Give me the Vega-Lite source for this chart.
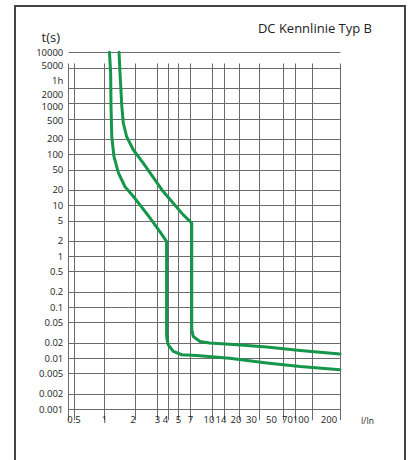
{
  "$schema": "https://vega.github.io/schema/vega-lite/v6.json",
  "width": 390,
  "height": 460,
  "autosize": "none",
  "padding": {"left": 15, "top": 6, "right": 9, "bottom": 0},
  "background": "white",
  "title": {"text": "DC Kennlinie Typ B", "anchor": "end", "frame": "group", "font": "Open Sans", "fontSize": 13, "fontWeight": "normal", "color": "#222", "dx": -33, "dy": 30, "offset": 0},
  "config": {"view": {"stroke": "#444", "strokeWidth": 2}, "font": "Open Sans"},
  "data": {"values": [
    {"curve": "a", "I": 1.13, "t": 10000},
    {"curve": "a", "I": 1.16, "t": 3900},
    {"curve": "a", "I": 1.17, "t": 860},
    {"curve": "a", "I": 1.19, "t": 220},
    {"curve": "a", "I": 1.25, "t": 90},
    {"curve": "a", "I": 1.38, "t": 43},
    {"curve": "a", "I": 1.6, "t": 23},
    {"curve": "a", "I": 1.93, "t": 14.8},
    {"curve": "a", "I": 2.19, "t": 10.1},
    {"curve": "a", "I": 2.64, "t": 5.6},
    {"curve": "a", "I": 3.26, "t": 3.0},
    {"curve": "a", "I": 3.9, "t": 1.95},
    {"curve": "a", "I": 3.9, "t": 0.031},
    {"curve": "a", "I": 3.93, "t": 0.024},
    {"curve": "a", "I": 4.07, "t": 0.0182},
    {"curve": "a", "I": 4.52, "t": 0.0135},
    {"curve": "a", "I": 5.55, "t": 0.0116},
    {"curve": "a", "I": 7.8, "t": 0.0112},
    {"curve": "a", "I": 16, "t": 0.0099},
    {"curve": "a", "I": 35.5, "t": 0.008},
    {"curve": "a", "I": 78, "t": 0.0068},
    {"curve": "a", "I": 200, "t": 0.0059},
    {"curve": "b", "I": 1.4, "t": 10000},
    {"curve": "b", "I": 1.43, "t": 3900},
    {"curve": "b", "I": 1.49, "t": 860},
    {"curve": "b", "I": 1.54, "t": 410},
    {"curve": "b", "I": 1.66, "t": 220},
    {"curve": "b", "I": 1.93, "t": 121},
    {"curve": "b", "I": 2.33, "t": 67},
    {"curve": "b", "I": 2.89, "t": 31.3},
    {"curve": "b", "I": 3.56, "t": 18.5},
    {"curve": "b", "I": 4.52, "t": 10.9},
    {"curve": "b", "I": 5.8, "t": 6.45},
    {"curve": "b", "I": 7.2, "t": 4.44},
    {"curve": "b", "I": 7.2, "t": 0.036},
    {"curve": "b", "I": 7.38, "t": 0.0265},
    {"curve": "b", "I": 8.23, "t": 0.0211},
    {"curve": "b", "I": 9.6, "t": 0.0197},
    {"curve": "b", "I": 17.5, "t": 0.0185},
    {"curve": "b", "I": 35.5, "t": 0.0164},
    {"curve": "b", "I": 78, "t": 0.0141},
    {"curve": "b", "I": 200, "t": 0.012}
  ]},
  "mark": {"type": "line", "color": "#16964a", "strokeWidth": 3, "strokeCap": "round", "strokeJoin": "round"},
  "encoding": {
    "x": {
      "field": "I", "type": "quantitative",
      "scale": {"type": "log", "nice": false,
        "domain": [0.445, 0.5, 1, 2, 3, 4, 5, 7, 10, 14, 20, 30, 50, 70, 100, 200],
        "range": [53.3, 58.5, 89, 120, 142, 152.5, 163, 175, 197, 209, 224, 244, 267.5, 280, 297, 325]},
      "axis": {
        "orient": "bottom", "offset": -57,
        "values": [0.445, 0.5, 1, 2, 3, 4, 5, 7, 10, 14, 20, 30, 50, 70, 100, 200],
        "format": "~g",
        "labelExpr": "datum.value < 0.49 ? '' : datum.label",
        "domain": false, "ticks": false,
        "labelPadding": 5, "labelFont": "Open Sans", "labelFontSize": 9.5, "labelColor": "#222",
        "labelFlush": false, "labelOverlap": false,
        "labelOffset": {"condition": [{"test": "datum.value == 30 || datum.value == 70", "value": -8}, {"test": "datum.value >= 50", "value": -11.5}, {"test": "datum.value >= 10", "value": -3.5}, {"test": "datum.value == 2 || datum.value == 4", "value": -2.5}], "value": 0},
        "grid": true, "gridColor": "#6b6b6b", "gridWidth": 1,
        "title": "I/In", "titleX": 352, "titleY": 11, "titleAlign": "center", "titleBaseline": "middle",
        "titleFont": "Open Sans", "titleFontSize": 8.5, "titleFontWeight": "normal", "titleColor": "#222"
      }
    },
    "y": {
      "field": "t", "type": "quantitative",
      "scale": {"type": "log", "nice": false, "domain": [0.001, 10000], "range": [403, 46.3]},
      "axis": {
        "orient": "left", "offset": -53.3,
        "values": [0.001, 0.002, 0.005, 0.01, 0.02, 0.05, 0.1, 0.2, 0.5, 1, 2, 5, 10, 20, 50, 100, 200, 500, 1000, 2000, 3600, 5000, 10000],
        "format": "~g",
        "labelExpr": "datum.value == 3600 ? '1h' : datum.label",
        "domain": false, "ticks": false,
        "labelPadding": 5.5, "labelFont": "Open Sans", "labelFontSize": 9.5, "labelColor": "#222",
        "labelFlush": false, "labelOverlap": false,
        "labelOffset": {"condition": [{"test": "datum.value == 3600", "value": 5.5}, {"test": "datum.value == 2000", "value": 6.7}, {"test": "datum.value == 1000", "value": 3.5}, {"test": "datum.value == 500", "value": 1.7}, {"test": "datum.value == 5000", "value": -2.3}], "value": 0},
        "grid": true, "gridColor": "#6b6b6b", "gridWidth": 1,
        "gridOpacity": {"condition": {"test": "datum.value == 3600", "value": 0}, "value": 1},
        "title": "t(s)", "titleAngle": 0, "titleX": -18, "titleY": 35, "titleAlign": "center", "titleBaseline": "alphabetic",
        "titleFont": "Open Sans", "titleFontSize": 13, "titleFontWeight": "normal", "titleColor": "#222"
      }
    },
    "detail": {"field": "curve"},
    "order": {"value": null}
  }
}
